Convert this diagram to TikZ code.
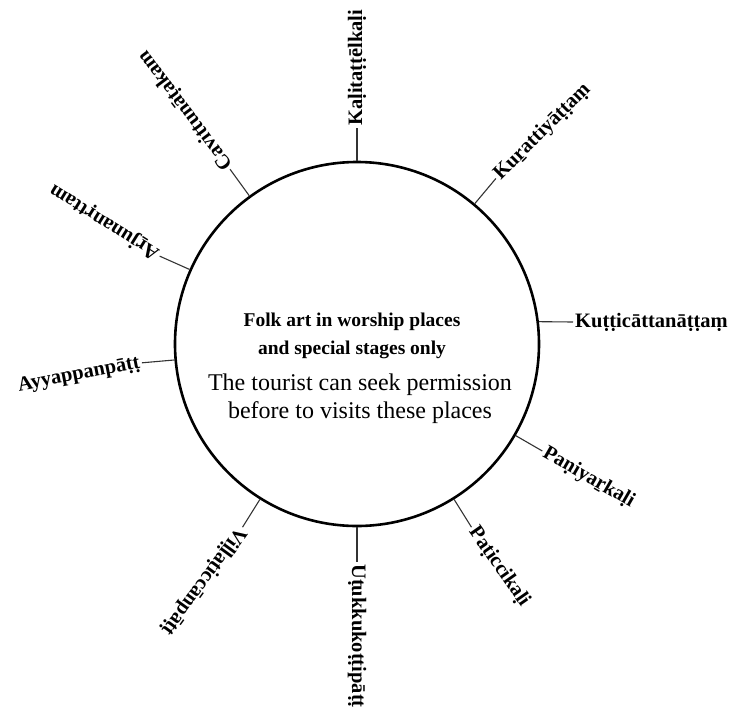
\documentclass[tikz,border=0pt]{standalone}
\usepackage{fontspec}
\setmainfont{Liberation Serif}
\usetikzlibrary{positioning}

\tikzset{
  hub/.style={circle, draw, line width=2.6pt, minimum size=364pt, inner sep=0pt},
  art/.style={font=\fontsize{20.5}{24}\selectfont\bfseries, inner sep=2pt},
  note/.style={font=\fontsize{19.5}{24}\selectfont\bfseries, inner sep=0pt},
  plain/.style={font=\fontsize{24}{28}\selectfont, inner sep=0pt},
  tick/.style={line width=1.1pt, draw=black!80},
}

\begin{document}
\begin{tikzpicture}[x=1pt,y=1pt,on grid,node distance=28pt]
   \useasboundingbox (-357,-369) rectangle (384,344);

   \node[hub] (hub) at (0,0) {};

   % text inside the circle
   \node[note] (folk) at (-5,22) {Folk art in worship places};
   \node[note] (stages) [below=of folk] {and special stages only};
   \node[plain] (tourist) at (3,-41) {The tourist can seek permission};
   \node[plain] (visit) [below=of tourist] {before to visits these places};

   % art forms round the circle
   \node[art, rotate=90, anchor=west]  (kali)     at (90:216)  {Kaḷitaṭṭēlkaḷi};
   \node[art, rotate=45, anchor=west]  (kurati)   at (50:216)  {Kuṟattiyāṭṭaṃ};
   \node[art, anchor=west]             (kutti)    at (216,22)  {Kuṭṭicāttanāṭṭaṃ};
   \node[art, rotate=-30, anchor=west] (paniyar)  at (-30:214) {Paṇiyaṟkaḷi};
   \node[art, rotate=-55, anchor=west] (paticci)  at (-58:216) {Paṭiccikaḷi};
   \node[art, rotate=-90, anchor=west] (utukku)   at (-90:218) {Uṭukkukoṭṭipāṭṭ};
   \node[art, rotate=234, anchor=west] (villati)  at (238:216) {Viḷḷaṭiccānpāṭṭ};
   \node[art, rotate=11, anchor=east]  (ayyappan) at (185:216) {Ayyappanpāṭṭ};
   \node[art, rotate=148, anchor=west] (arjunan)  at (156:216) {Aṟjunanṛttam};
   \node[art, rotate=127, anchor=west] (cavittu)  at (126:216) {Cavittunāṭakam};

   \path[tick]
    (hub.90)  edge (kali.west)
    (hub.50)  edge (kurati.west)
    (hub.7)   edge (kutti.west)
    (hub.-30) edge (paniyar.west)
    (hub.-58) edge (paticci.west)
    (hub.-90) edge (utukku.west)
    (hub.238) edge (villati.west)
    (hub.185) edge (ayyappan.east)
    (hub.156) edge (arjunan.west)
    (hub.126) edge (cavittu.west);
\end{tikzpicture}
\end{document}
